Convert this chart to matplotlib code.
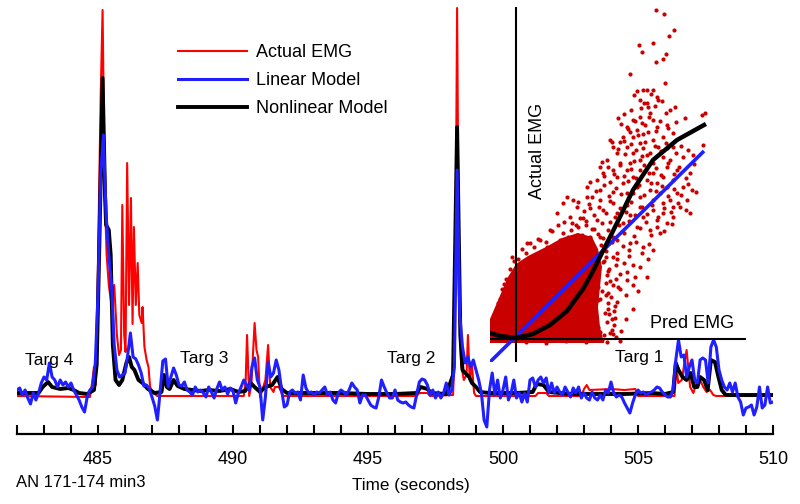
import numpy as np
import matplotlib
matplotlib.use("Agg")
from matplotlib import pyplot as plt

plt.rcParams['font.family'] = ['Liberation Sans', 'DejaVu Sans']

# --- EMG traces (time in s, amplitude in arbitrary units) ---
blue_t0, blue_dt = 482.0, 0.1
linear_model = [
    0.5, 0.7, 0.0, 0.5, -0.3, -0.9, 0.2, -0.5, 0.2, 1.2,
    1.8, 1.5, 3.2, 1.8, 1.5, 0.8, 1.5, 1.0, 1.3, 0.8,
    1.2, 0.5, 0.0, -0.5, -1.2, -1.7, -0.2, 0.5, 0.8, 3.2,
    10, 22, 26, 18, 14, 11, 5, 2.5, 1.8, 2.0,
    2.2, 4.0, 6.2, 3.8, 3.6, 3.0, 2.2, 0.9, 1.0, 0.6,
    -0.2, -1.1, -2.5, 0.3, 3.4, 3.6, 0.8, 1.8, 2.7, 2.0,
    1.0, 0.9, 1.3, 0.5, 0.3, 0.0, 0.8, 0.3, 0.5, 0.2,
    -0.2, 0.8, 0.3, -0.3, 0.6, 1.3, 0.5, 0.8, 0.1, 0.7,
    0.4, -0.8, 0.2, 0.8, 1.5, 1.0, 0.5, 2.8, 3.7, 1.5,
    0.8, -2.5, -0.2, 3.3, 1.8, 2.2, 3.5, 2.5, 0.5, -1.2,
    -1.0, 0.3, 0.5, 0.2, 0.3, -0.5, 2.0, 0.7, 0.2, 0.3,
    0.0, 0.3, 0.2, 0.5, 0.8, 0.0, 0.3, -0.5, -0.8, 0.2,
    0.5, 0.3, 0.0, 0.5, 1.2, 0.8, 0.5, -0.8, 0.0, 0.0,
    -0.5, -1.0, -1.2, -1.3, -0.2, 1.5, 0.8, 0.2, -0.3, -0.3,
    0.5, -0.5, -0.7, -0.8, -0.7, -1.0, -1.2, -1.3, 0.0, 1.3,
    1.6, 1.5, 1.0, 0.0, 0.5, -0.3, 0.3, -0.3, 0.2, 1.2,
    0.0, 0.5, 2.8, 22.5, 8, 4.8, 3.2, 3.8, 2.8, 3.5,
    2.5, 1.5, 0.2, -2.5, -3.2, 0.5, 2.2, 0.0, 1.5, -0.3,
    0.5, 1.8, -0.5, 0.2, 1.5, -0.3, 0.2, -0.7, 0.2, -0.7,
    1.5, 1.7, 0.8, 1.5, 1.8, 1.2, 1.7, 0.2, 1.2, 0.2,
    0.8, 0.3, 0.0, 0.8, 0.3, -0.2, 0.7, 0.2, 0.8, -0.3,
    0.2, -0.3, -0.5, 0.3, -0.3, -0.5, 0.0, -0.5, 0.5, 0.2,
    1.3, 0.2, -0.2, 0.0, -0.2, -0.8, -1.3, -1.8, -0.8, 0.0,
    0.5, 0.2, 0.3, 0.0, 0.2, 0.3, 0.5, 0.8, 0.7, 0.3,
    0.0, -0.2, -0.2, 0.5, 3.5, 5.5, 3.8, 4.0, 1.8, 2.8,
    3.5, 1.5, 1.2, 3.5, 3.7, 3.5, 1.2, 4.8, 5.5, 4.8,
    2.5, 1.5, 0.8, 0.5, 1.2, 0.3, 1.2, -0.2, -0.7, -2.0,
    -1.3, -1.2, -1.0, -2.0, -1.2, 0.8, -1.3, -1.0, 0.8, -0.8,
    -0.7,
]
blue_t = blue_t0 + blue_dt * np.arange(len(linear_model))

actual_t = [482.0, 484.7, 484.78, 484.85, 484.92, 484.97, 485.1, 485.17, 485.25, 485.32,
            485.4, 485.5, 485.6, 485.7, 485.78, 485.85, 485.9, 485.97, 486.02, 486.08,
            486.15, 486.22, 486.28, 486.33, 486.4, 486.47, 486.53, 486.62, 486.65, 486.72,
            486.8, 486.87, 486.93, 487.05, 487.2, 490.4, 490.47, 490.52, 490.6, 490.68,
            490.8, 490.87, 490.93, 491.0, 491.2, 491.3, 491.38, 491.5, 491.55, 491.7,
            491.85, 496.8, 496.9, 497.2, 497.3, 498.15, 498.22, 498.3, 498.37, 498.45,
            498.55, 498.65, 498.7, 498.77, 498.85, 498.93, 499.0, 501.2, 501.3, 501.6,
            501.7, 502.9, 503.0, 503.1, 503.2, 504.0, 504.5, 504.9, 505.0, 506.35,
            506.43, 506.49, 506.62, 506.8, 506.93, 507.05, 507.17, 507.3, 507.42, 507.54,
            507.67, 507.79, 507.9, 510.0]
actual_emg = [-0.1, -0.2, 1.2, 2.8, 1.0, 8.5, 30, 38.5, 20, 14,
              11, 9, 11, 6, 4, 4.5, 19, 6, 4.3, 23.2,
              9, 19.7, 7.1, 16.8, 9, 13.2, 8, 7.2, 8.8, 4.8,
              3.5, 2.8, 0.8, 0.2, -0.1, -0.1, 1.5, 6.0, -0.1, 1.0,
              7.2, 4.5, 3.8, -0.2, 1.5, 5.0, 0.8, 0.3, 0.8, 0.8,
              -0.1, -0.1, 0.2, 0.2, -0.1, 0.0, 5, 38.7, 10, 3,
              1.5, 2.0, 6, 1.5, 3.0, 0.2, -0.1, -0.1, 0.2, 0.2,
              -0.1, -0.1, 0.6, 1.0, 0.5, 0.6, 0.5, 0.6, -0.1, -0.1,
              2.8, 1.2, 1.5, 4.5, 0.8, 0.2, 1.2, 1.5, 0.8, 0.3,
              0.5, 0.0, -0.1, -0.1]

nonlin_t = [482.0, 482.8, 482.95, 483.15, 483.3, 483.6, 483.9, 484.1, 484.3, 484.6,
            484.85, 484.95, 485.05, 485.17, 485.26, 485.3, 485.4, 485.47, 485.55, 485.65,
            485.78, 485.9, 486.05, 486.15, 486.25, 486.35, 486.5, 486.65, 486.85, 487.1,
            487.35, 487.45, 487.55, 487.65, 487.8, 487.95, 488.2, 488.5, 488.8, 489.1,
            489.5, 489.9, 490.2, 490.45, 490.65, 490.8, 491.0, 491.2, 491.45, 491.65,
            491.8, 492.0, 493.0, 494.0, 495.0, 496.0, 496.8, 496.95, 497.2, 497.35,
            497.9, 498.15, 498.3, 498.42, 498.5, 498.6, 498.75, 498.85, 499.0, 499.15,
            499.5, 500.5, 501.1, 501.25, 501.5, 501.7, 502.5, 503.5, 504.5, 505.5,
            506.0, 506.3, 506.4, 506.5, 506.65, 506.8, 506.95, 507.08, 507.2, 507.3,
            507.45, 507.58, 507.7, 507.85, 507.98, 508.1, 508.25, 510.0]
nonlin_model = [0.2, 0.2, 0.8, 1.3, 0.8, 0.6, 0.7, 0.5, 0.2, 0.1,
                0.5, 3, 15, 31.7, 20, 17, 16.5, 14, 5, 1.5,
                1.0, 1.5, 3.2, 3.8, 2.8, 2.5, 1.5, 1.2, 0.6, 0.2,
                0.3, 2.0, 0.8, 0.6, 1.5, 0.9, 0.6, 0.5, 0.4, 0.5,
                0.4, 0.6, 0.3, 0.4, 1.2, 0.8, 0.3, 0.8, 1.0, 1.8,
                0.6, 0.2, 0.2, 0.2, 0.1, 0.1, 0.2, 0.8, 0.6, 0.2,
                0.1, 2, 26.8, 6, 2.5, 2.2, 1.8, 1.2, 0.8, 0.3,
                0.2, 0.2, 0.3, 1.1, 1.0, 0.3, 0.1, 0.1, 0.1, 0.2,
                0.1, 0.3, 3.2, 2.5, 1.8, 1.5, 2.2, 0.8, 0.8, 1.8,
                1.5, 0.5, 3.5, 3.3, 1.8, 0.5, 0.0, 0.0]

targ_labels = ['Targ 4', 'Targ 3', 'Targ 2', 'Targ 1']
major_ticks = [485, 490, 495, 500, 505, 510]

# --- inset: actual vs predicted EMG (pred, actual) ---
core_x = [-26, 88, 84, 82, 84, 86, 82, 76, 62, 46, 30, 12, 0, -8, -14, -20, -26]
core_y = [-4, -4, 12, 32, 52, 72, 90, 102, 106, 101, 92, 83, 75, 62, 48, 34, 20]
emg_pts = [
    (140, 329), (148, 325), (153, 303), (158, 309), (123, 294), (126, 287), (137, 296),
    (140, 277), (147, 280), (150, 285), (114, 265), (149, 256), (121, 248), (127, 249),
    (131, 249), (137, 249), (124, 239), (141, 242), (142, 239), (131, 236), (132, 232),
    (154, 229), (159, 232), (134, 226), (124, 222), (117, 219), (137, 219), (102, 221),
    (129, 214), (141, 212), (151, 214), (169, 221), (186, 224), (189, 226), (111, 212),
    (114, 207), (121, 209), (132, 207), (107, 202), (117, 202), (122, 204), (94, 199),
    (104, 197), (124, 196), (137, 199), (147, 202), (157, 206), (97, 192), (111, 192),
    (127, 191), (142, 192), (151, 191), (157, 192), (101, 186), (117, 186), (131, 184),
    (147, 182), (154, 179), (167, 182), (177, 184), (187, 194), (91, 179), (104, 176),
    (114, 176), (124, 179), (137, 176), (151, 172), (161, 169), (174, 166), (84, 172),
    (97, 169), (111, 169), (124, 169), (137, 166), (147, 162), (157, 159), (167, 152),
    (176, 149), (87, 166), (101, 162), (117, 162), (131, 159), (141, 156), (151, 152),
    (161, 146), (171, 139), (157, 132), (81, 159), (94, 157), (107, 156), (121, 152),
    (134, 149), (144, 146), (154, 139), (164, 132), (174, 126), (71, 152), (84, 149),
    (97, 147), (111, 146), (124, 142), (137, 139), (147, 136), (51, 142), (57, 139),
    (71, 142), (84, 139), (97, 136), (111, 134), (124, 132), (137, 129), (147, 126),
    (157, 122), (47, 136), (61, 132), (74, 131), (87, 129), (101, 126), (114, 124),
    (127, 122), (141, 119), (151, 116), (41, 126), (54, 122), (67, 121), (81, 119),
    (94, 117), (107, 116), (121, 112), (134, 109), (144, 106), (34, 109), (47, 106),
    (61, 104), (74, 102), (87, 101), (101, 99), (114, 96), (127, 92), (137, 89),
    (11, 96), (24, 99), (31, 92), (44, 91), (87, 77), (101, 80), (117, 74), (132, 80),
    (131, 62), (111, 67), (91, 64), (77, 57), (97, 54), (117, 54), (71, 44), (84, 40),
    (101, 37), (117, 30), (64, 24), (77, 20), (91, 17), (71, 10), (84, 7), (97, 5),
    (84, -1), (91, -3), (82, 39), (92, 36), (99, 21), (96, 9), (89, 26), (79, 16),
    (72, 9), (86, -1), (69, 26), (64, 39), (76, 49), (82, 52), (92, 46), (102, 52),
    (111, 59),
    (118, 244), (128, 236), (135, 245), (146, 238), (125, 231), (139, 233),
    (108, 225), (115, 229), (126, 216), (133, 222), (144, 218), (150, 226), (112, 210),
    (127, 205), (140, 208), (152, 211), (160, 217), (105, 215), (119, 218),
    (96, 197), (102, 190), (109, 185), (115, 195), (120, 189), (129, 197), (134, 186),
    (139, 193), (145, 188), (150, 196), (160, 186), (165, 193), (172, 189), (108, 198),
    (126, 183), (86, 177), (92, 172), (98, 165), (104, 174), (108, 163), (115, 170),
    (120, 161), (128, 174), (133, 166), (140, 171), (145, 164), (152, 176), (158, 165),
    (163, 172), (170, 161), (178, 175), (118, 178), (88, 163),
    (74, 157), (80, 148), (88, 154), (93, 143), (100, 151), (105, 145), (112, 158),
    (117, 146), (123, 154), (128, 144), (135, 156), (140, 148), (146, 153), (152, 143),
    (158, 150), (165, 144), (172, 155), (180, 147), (76, 142),
    (62, 137), (68, 128), (73, 135), (78, 124), (83, 132), (90, 126), (94, 138),
    (99, 122), (104, 131), (110, 127), (115, 137), (119, 124), (126, 132), (131, 125),
    (136, 134), (142, 122), (148, 131), (155, 127), (162, 136), (170, 129), (64, 121),
    (48, 117), (55, 109), (60, 114), (66, 104), (70, 118), (76, 110), (82, 105),
    (86, 116), (92, 109), (97, 102), (103, 114), (108, 106), (113, 118), (118, 103),
    (124, 111), (130, 117), (135, 104), (141, 112), (148, 108), (156, 115), (52, 102),
    (30, 97), (38, 92), (44, 99), (50, 88), (58, 95), (66, 90), (72, 98), (79, 87),
    (85, 94), (90, 88), (96, 97), (101, 86), (107, 93), (113, 89), (120, 97),
    (126, 86), (133, 95), (88, 78), (93, 70), (97, 82), (104, 65), (108, 76),
    (113, 83), (119, 62), (124, 72), (100, 74), (86, 48), (90, 56), (95, 42),
    (99, 33), (104, 50), (110, 44), (122, 48), (82, 12), (88, 4), (93, 25), (98, 14),
    (105, 8), (110, 20), (-24, 15), (-20, 28), (-16, 40), (-12, 55), (-6, 70), (2, 80),
    (10, 86), (18, 92), (10, -3), (30, -4), (50, -2), (70, -3),
    (-4, 82), (6, 90), (14, 96), (22, 100), (36, 108), (42, 114), (56, 116), (62, 112),
    (70, 114), (78, 110), (84, 102), (88, 92), (90, 82), (92, 68), (94, 58), (90, 44),
    (92, 30), (96, 20), (94, 6), (100, 2), (104, -2), (98, 28), (100, 60),
    (-22, 24), (-18, 36), (-14, 50), (-10, 60), (-2, 78),
]
fit_lin_x = [-26, 188]
fit_lin_y = [-23, 188]
fit_nl_x = [-26, -16, 0, 17, 34, 51, 67, 76, 86, 101, 117, 137, 161, 188]
fit_nl_y = [6, 3, 1, 5, 14, 28, 50, 66, 86, 116, 149, 179, 199, 214]

W, H = 800, 504


def fx(px):
    return px / W


def fy(py):
    return 1 - py / H


fig = plt.figure(figsize=(8, 5.04), dpi=100)
ax = fig.add_axes([fx(17), fy(434), 756 / W, 434 / H])

red_line, = ax.plot(actual_t, actual_emg, color='#ff0000', lw=1.5, label='Actual EMG')
black_line, = ax.plot(nonlin_t, nonlin_model, color='black', lw=2.8, label='Nonlinear Model')
blue_line, = ax.plot(blue_t, linear_model, color='#1f1fff', lw=2.2, label='Linear Model')

ax.set_xlim(482, 510)
ax.set_ylim(-3.9, 39.5)
for s in ['left', 'right', 'top']:
    ax.spines[s].set_visible(False)
ax.spines['bottom'].set_linewidth(1.6)
ax.set_yticks([])
ax.set_xticks(major_ticks)
ax.set_xticks(np.arange(482, 511, 1), minor=True)
ax.tick_params(axis='x', which='both', direction='in', length=6.5, width=1.5,
               labelsize=13, pad=12.5)
ax.patch.set_alpha(0)

ax.legend(handles=[red_line, blue_line, black_line], loc='upper left',
          bbox_to_anchor=(fx(178), fy(44)), bbox_transform=fig.transFigure,
          frameon=False, fontsize=13, handlelength=3.8, handletextpad=0.5,
          labelspacing=0.62, borderpad=0, borderaxespad=0)

# text labels
fig.text(fx(25), fy(365), targ_labels[0], fontsize=12.5, va='baseline')
fig.text(fx(180), fy(363), targ_labels[1], fontsize=12.5, va='baseline')
fig.text(fx(387), fy(363), targ_labels[2], fontsize=12.5, va='baseline')
fig.text(fx(615), fy(362), targ_labels[3], fontsize=12.5, va='baseline')
fig.text(fx(16), fy(487), 'AN 171-174 min3', fontsize=12, va='baseline')
fig.text(fx(411), fy(490), 'Time (seconds)', fontsize=12.3, va='baseline', ha='center')

# inset scatter
ins = fig.add_axes([fx(490), fy(362), 256 / W, 355 / H])
ins.set_xlim(-26, 230)
ins.set_ylim(-23, 332)
ins.axis('off')
px_pred = [p[0] for p in emg_pts]
px_act = [p[1] for p in emg_pts]
ins.fill(core_x, core_y, color='#c80000', lw=0)
ins.scatter(px_pred, px_act, s=9, color='#c80000', lw=0)
ins.plot(fit_lin_x, fit_lin_y, color='#1f1fff', lw=2.6, solid_capstyle='butt')
ins.plot(fit_nl_x, fit_nl_y, color='black', lw=3.2)
ins.axvline(0, color='black', lw=1.5)
ins.axhline(0, color='black', lw=1.5)
fig.text(fx(650), fy(328), 'Pred EMG', fontsize=13, va='baseline')
fig.text(fx(538), fy(151), 'Actual EMG', fontsize=13, rotation=90, va='center', ha='center')

fig.savefig('out.png', dpi=100)
